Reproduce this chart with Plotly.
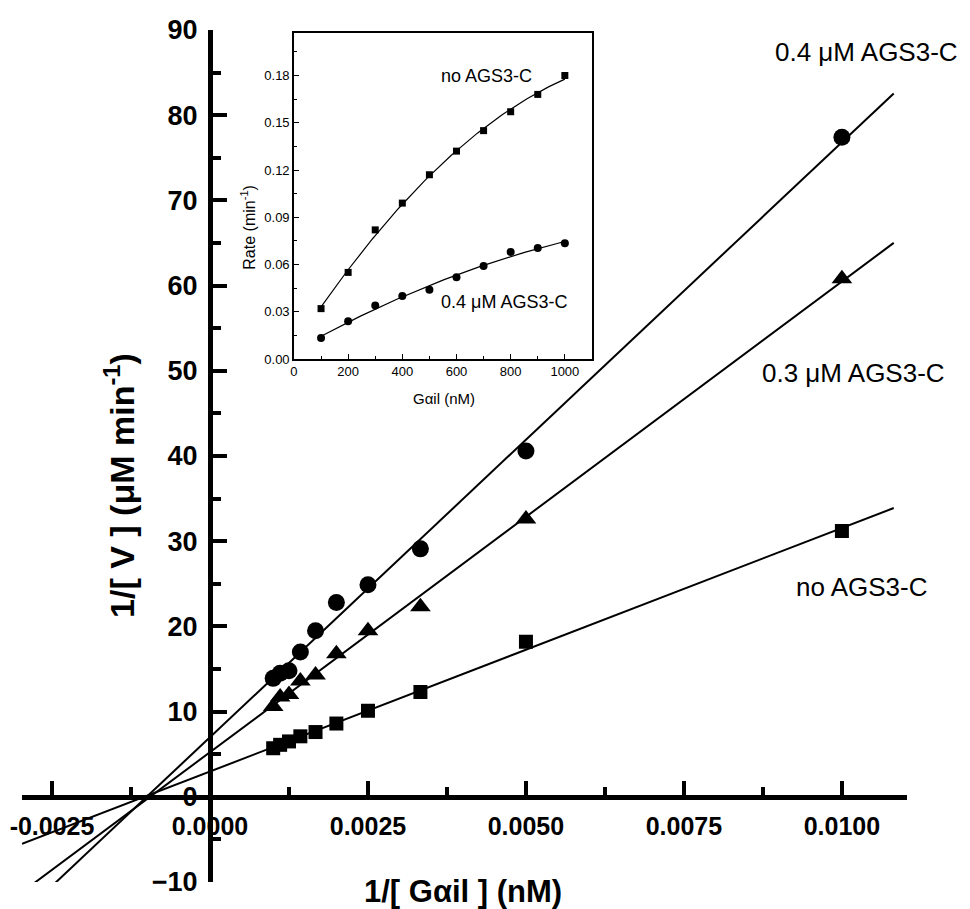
import numpy as np
import plotly.graph_objects as go

# main plot: 1/[Gai1] (nM^-1) against 1/V for the three AGS3-C levels
inv_gai = [0.0100, 0.0050, 0.00333, 0.0025, 0.0020, 0.00167, 0.00143, 0.00125, 0.00111, 0.0010]
inv_v_none = [31.2, 18.2, 12.3, 10.1, 8.6, 7.6, 7.1, 6.5, 6.1, 5.7]
inv_v_03 = [60.8, 32.6, 22.3, 19.5, 16.8, 14.3, 13.6, 12.0, 11.7, 10.6]
inv_v_04 = [77.4, 40.6, 29.1, 24.9, 22.8, 19.5, 17.0, 14.8, 14.5, 13.9]

# inset: rate (min^-1) against [Gai1] (nM)
gai_nm = [100, 200, 300, 400, 500, 600, 700, 800, 900, 1000]
rate_none = [0.032, 0.055, 0.082, 0.099, 0.117, 0.132, 0.145, 0.157, 0.168, 0.180]
rate_04 = [0.0134, 0.024, 0.034, 0.040, 0.044, 0.052, 0.059, 0.068, 0.0705, 0.0735]

X_RANGE = [-0.002975, 0.01103]
Y_RANGE = [-10, 90]
FIT_END = 0.01082

SANS = "Liberation Sans, Arial, sans-serif"

fig = go.Figure()

# regression lines (lineweaver-burk)
for ys in [inv_v_none, inv_v_03, inv_v_04]:
    slope, icept = np.polyfit(inv_gai, ys, 1)
    xs = np.array([X_RANGE[0], FIT_END])
    fig.add_trace(go.Scatter(x=xs, y=slope * xs + icept, mode="lines",
                             line=dict(color="black", width=2), hoverinfo="skip"))

fig.add_trace(go.Scatter(x=inv_gai, y=inv_v_none, mode="markers",
                         marker=dict(symbol="square", size=14, color="black")))
fig.add_trace(go.Scatter(x=inv_gai, y=inv_v_03, mode="markers",
                         marker=dict(symbol="triangle-up", size=18, color="black")))
fig.add_trace(go.Scatter(x=inv_gai, y=inv_v_04, mode="markers",
                         marker=dict(symbol="circle", size=17, color="black")))

# inset: smooth fitted curve + points
g_curve = np.linspace(gai_nm[0], gai_nm[-1], 100)
for rates, sym, sz in [(rate_none, "square", 7), (rate_04, "circle", 8)]:
    coef = np.polyfit(gai_nm, rates, 2)
    fig.add_trace(go.Scatter(x=g_curve, y=np.polyval(coef, g_curve), mode="lines",
                             line=dict(color="black", width=1.2),
                             xaxis="x2", yaxis="y2", hoverinfo="skip"))
    fig.add_trace(go.Scatter(x=gai_nm, y=rates, mode="markers",
                             marker=dict(symbol=sym, size=sz, color="black"),
                             xaxis="x2", yaxis="y2"))

y0_pos = (0 - Y_RANGE[0]) / (Y_RANGE[1] - Y_RANGE[0])
x0_pos = (0 - X_RANGE[0]) / (X_RANGE[1] - X_RANGE[0])

# the page body adds 8px, so margins are shifted to compensate
fig.update_layout(
    width=970, height=909,
    margin=dict(l=14, r=71, t=22, b=35),
    paper_bgcolor="white", plot_bgcolor="white",
    showlegend=False,
    xaxis=dict(
        range=X_RANGE, anchor="free", position=y0_pos, automargin=False,
        showgrid=False, zeroline=False,
        showline=True, linecolor="black", linewidth=5,
        ticks="inside", ticklen=14, tickwidth=4, tickcolor="black",
        tickvals=[-0.0025, 0, 0.0025, 0.005, 0.0075, 0.01],
        ticktext=["-0.0025", "0.0000", "0.0025", "0.0050", "0.0075", "0.0100"],
        minor=dict(ticks="inside", ticklen=8, tickwidth=4, tickcolor="black",
                   tickvals=[-0.00125, 0.00125, 0.00375, 0.00625, 0.00875]),
        tickfont=dict(family=SANS, size=25, color="black", weight="bold"),
        ticklabelstandoff=5, ticklabeloverflow="allow",
    ),
    yaxis=dict(
        range=Y_RANGE, anchor="free", position=x0_pos, automargin=False,
        showgrid=False, zeroline=False,
        showline=True, linecolor="black", linewidth=5,
        ticks="inside", ticklen=14, tickwidth=4, tickcolor="black",
        tickvals=list(range(-10, 91, 10)),
        minor=dict(ticks="inside", ticklen=8, tickwidth=4, tickcolor="black",
                   tickvals=list(range(-5, 90, 10))),
        tickfont=dict(family=SANS, size=27, color="black", weight="bold"),
        ticklabelstandoff=5, ticklabeloverflow="allow",
    ),
    xaxis2=dict(
        domain=[0.3073, 0.644], anchor="y2", range=[0, 1100], automargin=False,
        showgrid=False, zeroline=False,
        showline=True, mirror=True, linecolor="black", linewidth=1.5,
        ticks="inside", ticklen=5, tickwidth=1.2, tickcolor="black",
        dtick=200, tick0=0,
        minor=dict(ticks="inside", ticklen=3, tickwidth=1, tickcolor="black", dtick=100),
        tickfont=dict(family=SANS, size=13, color="black"),
    ),
    yaxis2=dict(
        domain=[0.6138, 0.9965], anchor="x2", range=[0, 0.207], automargin=False,
        showgrid=False, zeroline=False,
        showline=True, mirror=True, linecolor="black", linewidth=1.5,
        ticks="inside", ticklen=5, tickwidth=1.2, tickcolor="black",
        dtick=0.03, tick0=0, tickformat=".2f",
        minor=dict(ticks="inside", ticklen=3, tickwidth=1, tickcolor="black", dtick=0.015),
        tickfont=dict(family=SANS, size=13, color="black"),
    ),
)

annots = [
    # axis titles
    dict(x=0.1107, y=0.466, text="1/[ V ] (μM min<sup>-1</sup>)", textangle=-90,
         font=dict(family=SANS, size=34, color="black", weight="bold")),
    dict(x=0.4983, y=-0.0117, text="1/[ Gαil ] (nM)",
         font=dict(family=SANS, size=31, color="black", weight="bold")),
    # series labels
    dict(x=0.9548, y=0.974, text="0.4 μM AGS3-C", font=dict(family=SANS, size=26, color="black")),
    dict(x=0.940, y=0.597, text="0.3 μM AGS3-C", font=dict(family=SANS, size=26, color="black")),
    dict(x=0.949, y=0.346, text="no AGS3-C", font=dict(family=SANS, size=26, color="black")),
    # inset labels
    dict(x=0.5254, y=0.946, text="no AGS3-C", font=dict(family=SANS, size=18, color="black")),
    dict(x=0.5446, y=0.681, text="0.4 μM AGS3-C", font=dict(family=SANS, size=18, color="black")),
    dict(x=0.2554, y=0.768, text="Rate (min<sup>-1</sup>)", textangle=-90,
         font=dict(family=SANS, size=16, color="black")),
    dict(x=0.4768, y=0.567, text="Gαil (nM)", font=dict(family=SANS, size=15, color="black")),
]
for a in annots:
    a.update(xref="paper", yref="paper", showarrow=False, xanchor="center", yanchor="middle")
    fig.add_annotation(**a)

fig.write_html("out.html")
